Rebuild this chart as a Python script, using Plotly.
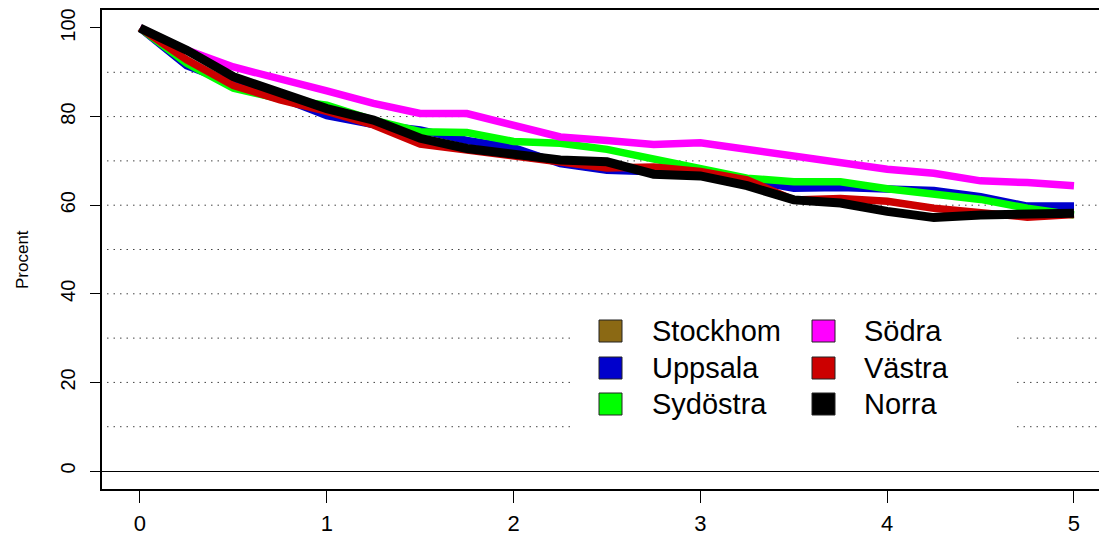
import plotly.graph_objects as go

# time points (0 to 5 in quarter steps)
years = [i * 0.25 for i in range(21)]

uppsala = [100, 91.5, 87.5, 84.3, 80.2, 78.2, 77.0, 74.6, 73.0, 69.4, 67.9,
           67.6, 67.2, 65.8, 63.8, 64.0, 63.5, 63.3, 61.9, 59.8, 59.8]
sydostra = [100, 92.0, 86.4, 84.0, 82.6, 79.2, 76.6, 76.4, 74.4, 74.0, 72.6,
            70.4, 67.9, 66.1, 65.3, 65.3, 63.7, 62.7, 61.3, 59.3, 57.8]
sodra = [100, 95.0, 91.2, 88.7, 85.8, 83.0, 80.7, 80.7, 78.1, 75.4, 74.6,
         73.7, 74.1, 72.5, 70.9, 69.5, 68.1, 67.2, 65.5, 65.1, 64.4]
vastra = [100, 92.8, 87.0, 83.8, 81.2, 78.1, 73.8, 72.5, 71.2, 69.6, 68.4,
          68.6, 67.6, 65.7, 61.2, 61.5, 60.9, 59.3, 58.3, 57.3, 57.9]
norra = [100, 95.0, 89.0, 85.6, 81.8, 79.2, 75.1, 72.8, 71.3, 70.2, 69.8,
         67.0, 66.6, 64.4, 61.2, 60.5, 58.6, 57.2, 57.8, 58.0, 58.2]

legend_names = ["Stockhom", "Uppsala", "Sydöstra", "Södra", "Västra", "Norra"]
legend_colors = ["#8B6914", "#0000CC", "#00FF00", "#FF00FF", "#CC0000", "#000000"]

x_ticks = [0, 1, 2, 3, 4, 5]
y_ticks = [0, 20, 40, 60, 80, 100]
grid_levels = [10, 20, 30, 40, 50, 60, 70, 80, 90]

# page body has an 8px margin, so work in screen pixels minus 8
OFF = 8
W, H = 1099, 529
L, T = 102 - OFF, 10 - OFF
PW, PH = 1105 - 102, 489 - 10
R = W - L - PW
B = H - T - PH


def px(x):
    return (x - OFF - L) / PW


def py(y):
    return (T + PH - (y - OFF)) / PH


FONT = "Liberation Sans, Arial, Helvetica, sans-serif"

fig = go.Figure()

series = [
    ("Uppsala", uppsala, legend_colors[1], 7.5),
    ("Sydöstra", sydostra, legend_colors[2], 7.5),
    ("Södra", sodra, legend_colors[3], 7.5),
    ("Västra", vastra, legend_colors[4], 7.5),
    ("Norra", norra, legend_colors[5], 9),
]
for name, vals, col, w in series:
    fig.add_trace(go.Scatter(x=years, y=vals, name=name, mode="lines",
                             line=dict(color=col, width=w),
                             showlegend=False))

shapes = []
for g in grid_levels:
    shapes.append(dict(type="line", xref="paper", yref="y", x0=0.005, x1=0.995,
                       y0=g, y1=g, layer="below",
                       line=dict(color="#444444", width=1, dash="1.5px,5px")))

# legend box (white background hides the grid)
shapes.append(dict(type="rect", xref="paper", yref="paper",
                   x0=px(573), x1=px(1013), y0=py(432), y1=py(305),
                   fillcolor="white", line=dict(width=0), layer="below"))

annotations = []
rows = [331, 368, 404]
cols = [(599, 650), (812, 862)]
for i, (name, col) in enumerate(zip(legend_names, legend_colors)):
    sx, tx = cols[i // 3]
    cy = rows[i % 3]
    shapes.append(dict(type="rect", xref="paper", yref="paper",
                       x0=px(sx), x1=px(sx + 23), y0=py(cy + 11), y1=py(cy - 11),
                       fillcolor=col, line=dict(color="#222222", width=1),
                       layer="above"))
    annotations.append(dict(text=name, xref="paper", yref="paper",
                            x=px(tx), y=py(cy), xanchor="left", yanchor="middle",
                            showarrow=False,
                            font=dict(family=FONT, size=29, color="black")))

annotations.append(dict(text="Procent", xref="paper", yref="paper",
                        x=px(22), y=py(260), xanchor="center", yanchor="middle",
                        textangle=-90, showarrow=False,
                        font=dict(family=FONT, size=17, color="black")))

fig.update_layout(
    width=W, height=H,
    margin=dict(l=L, r=R, t=T, b=B),
    plot_bgcolor="white", paper_bgcolor="white",
    font=dict(family=FONT, color="black"),
    shapes=shapes, annotations=annotations,
    showlegend=False,
)
fig.update_xaxes(
    range=[-0.2034, 5.166], tickvals=x_ticks, ticks="outside", ticklen=12,
    tickcolor="black", showgrid=False, zeroline=False, automargin=False,
    showline=True, mirror=True, linecolor="black", linewidth=1.5,
    tickfont=dict(size=22), ticklabelstandoff=2,
)
fig.update_yaxes(
    range=[-4.06, 104.06], tickvals=y_ticks, ticks="outside", ticklen=10,
    tickcolor="black", showgrid=False, zeroline=True, zerolinecolor="black",
    zerolinewidth=1, showline=True, mirror=True, linecolor="black",
    automargin=False, linewidth=1.5, tickangle=-90, tickfont=dict(size=20),
    ticklabelstandoff=7, ticklabeloverflow="allow",
)

fig.write_html("out.html")
